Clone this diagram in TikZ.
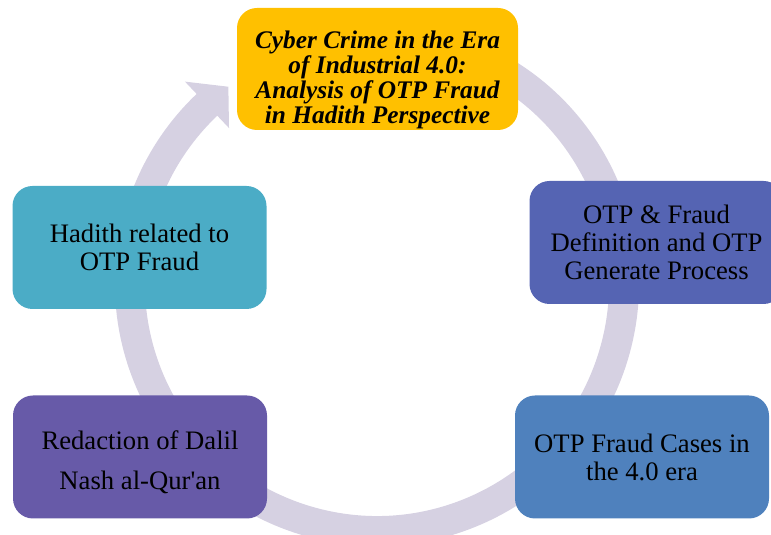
\documentclass[tikz,border=0pt]{standalone}
\usepackage{fontspec}
\setmainfont{Liberation Serif}
\definecolor{cgold}{HTML}{FFC000}
\definecolor{cindigo}{HTML}{5564B3}
\definecolor{cteal}{HTML}{4BACC6}
\definecolor{cviolet}{HTML}{675AA8}
\definecolor{cblue}{HTML}{4F81BD}
\definecolor{cring}{HTML}{D6D1E2}
\begin{document}
\begin{tikzpicture}
                        [x=0.75pt, y=0.75pt,
                        card/.style={rounded corners=15pt, inner sep=0pt,
                          minimum width=190.5pt, minimum height=92.25pt,
                          align=center, font=\fontsize{20}{21}\selectfont},
                        ring/.style={color=cring, line width=22.5pt}]
                        \useasboundingbox (0,0) rectangle (771,535);
                        \clip (0,0) rectangle (771,535);
                        %Ring
                        \coordinate (ctr) at (377,251);
                        \draw [ring] ([shift={(75:247)}]ctr) arc [start angle=75, end angle=-227, radius=185.25pt];
                        \fill [cring] ([shift={(133.5:215)}]ctr) -- ([shift={(133.5:279)}]ctr) -- ([shift={(127:247)}]ctr) -- cycle;
                        %Kaesten
                        \node [card, fill=cgold, minimum width=210.75pt, minimum height=91.5pt,
                          font=\fontsize{19}{18.75}\selectfont\bfseries\itshape] (Title) at (377.5,466)
                          {\rule{0pt}{30pt}Cyber Crime in the Era\\ of Industrial 4.0:\\ Analysis of OTP Fraud\\ in Hadith Perspective};
                        \node [card, fill=cindigo] (Def) at (656.5,292.5) {OTP \& Fraud\\ Definition and OTP\\ Generate Process};
                        \node [card, fill=cblue] (Cases) at (642,78) {OTP Fraud Cases in\\ the 4.0 era};
                        \node [card, fill=cviolet, font=\fontsize{20}{30}\selectfont] (Red) at (140,78)
                          {\rule{0pt}{22pt}Redaction of Dalil\\ Nash al-Qur\textquotesingle an};
                        \node [card, fill=cteal] (Had) at (139.5,287.5) {Hadith related to\\ OTP Fraud};
                \end{tikzpicture}
\end{document}
